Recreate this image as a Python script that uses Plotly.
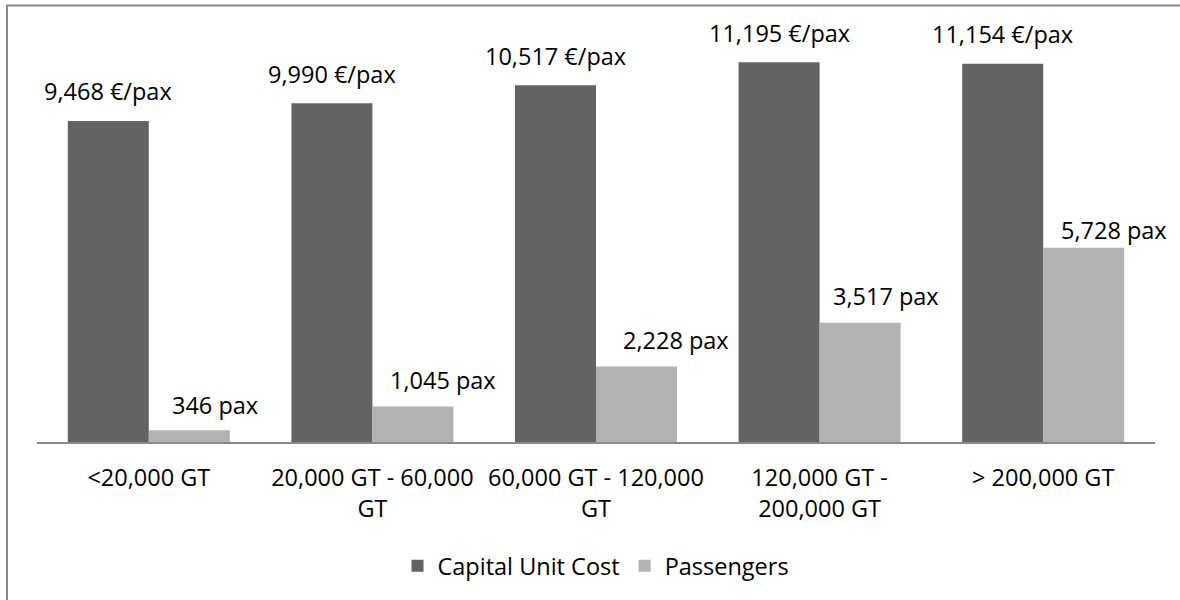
import plotly.graph_objects as go

# ---- data ----
categories = ["<20,000 GT", "20,000 GT - 60,000 GT", "60,000 GT - 120,000 GT",
              "120,000 GT - 200,000 GT", "> 200,000 GT"]
tick_labels = ["<20,000 GT", "20,000 GT - 60,000<br>GT", "60,000 GT - 120,000<br>GT",
               "120,000 GT -<br>200,000 GT", "> 200,000 GT"]
capital_unit_cost = [9468, 9990, 10517, 11195, 11154]
passengers = [346, 1045, 2228, 3517, 5728]

# ---- styling ----
FONT = "Open Sans"
FS = 23.5
DARK = "#636363"
LIGHT = "#b2b2b2"
BAR_HALF = 40.5            # px, half of a bar width (offset of each bar from group centre)
DESC = 7.9                 # px, text baseline above annotation box bottom
cap_gap = [19.5] * 5                       # baseline gap above bar top
pax_gap = [15, 16.7, 16.7, 17, 7.7]
pax_dx = [25.5, 30, 39, 25.7, 30]          # manual label shifts (as in the original)

fig = go.Figure()
fig.add_trace(go.Bar(name="Capital Unit Cost", x=categories, y=capital_unit_cost,
                     marker=dict(color=DARK, line=dict(width=0))))
fig.add_trace(go.Bar(name="Passengers", x=categories, y=passengers,
                     marker=dict(color=LIGHT, line=dict(width=0))))

ann = []
for i, c in enumerate(categories):
    ann.append(dict(x=c, y=capital_unit_cost[i], xref="x", yref="y",
                    text=f"{capital_unit_cost[i]:,} €/pax", showarrow=False,
                    xshift=-BAR_HALF, yshift=cap_gap[i] - DESC, yanchor="bottom",
                    font=dict(family=FONT, size=FS, color="#000")))
    ann.append(dict(x=c, y=passengers[i], xref="x", yref="y",
                    text=f"{passengers[i]:,} pax", showarrow=False,
                    xshift=BAR_HALF + pax_dx[i], yshift=pax_gap[i] - DESC, yanchor="bottom",
                    font=dict(family=FONT, size=FS, color="#000")))

L, R, T, B = 37, 25, 35, 158
W, H = 1180, 600
pw, ph = W - L - R, H - T - B
# outer frame (extends beyond right/bottom of the picture)
fx0 = (7 - L) / pw
fy1 = 1 + (T - 5.5) / ph
fig.add_shape(type="rect", xref="paper", yref="paper", x0=fx0, x1=1.2, y0=-1, y1=fy1,
              line=dict(color="#878787", width=2), fillcolor="rgba(0,0,0,0)", layer="below")

fig.update_layout(
    width=W, height=H,
    margin=dict(l=L, r=R, t=T, b=B),
    paper_bgcolor="white", plot_bgcolor="white",
    barmode="group", bargap=0.2755, bargroupgap=0,
    font=dict(family=FONT, size=FS, color="#000"),
    annotations=ann,
    showlegend=True,
    legend=dict(orientation="h", x=(596 - L) / pw, xanchor="center",
                y=(442 - 566) / ph, yanchor="middle",
                font=dict(family=FONT, size=FS, color="#000"),
                itemwidth=30, traceorder="normal"),
    xaxis=dict(showline=True, linecolor="#898989", linewidth=2,
               range=[-0.5, len(categories) - 0.5],
               tickmode="array", tickvals=categories, ticktext=tick_labels,
               ticks="outside", ticklen=14, tickcolor="rgba(0,0,0,0)",
               tickfont=dict(family=FONT, size=FS, color="#000"),
               showgrid=False, zeroline=False, fixedrange=True),
    yaxis=dict(visible=False, range=[0, 12000], showgrid=False, zeroline=False,
               fixedrange=True),
)

fig.write_html("out.html")
